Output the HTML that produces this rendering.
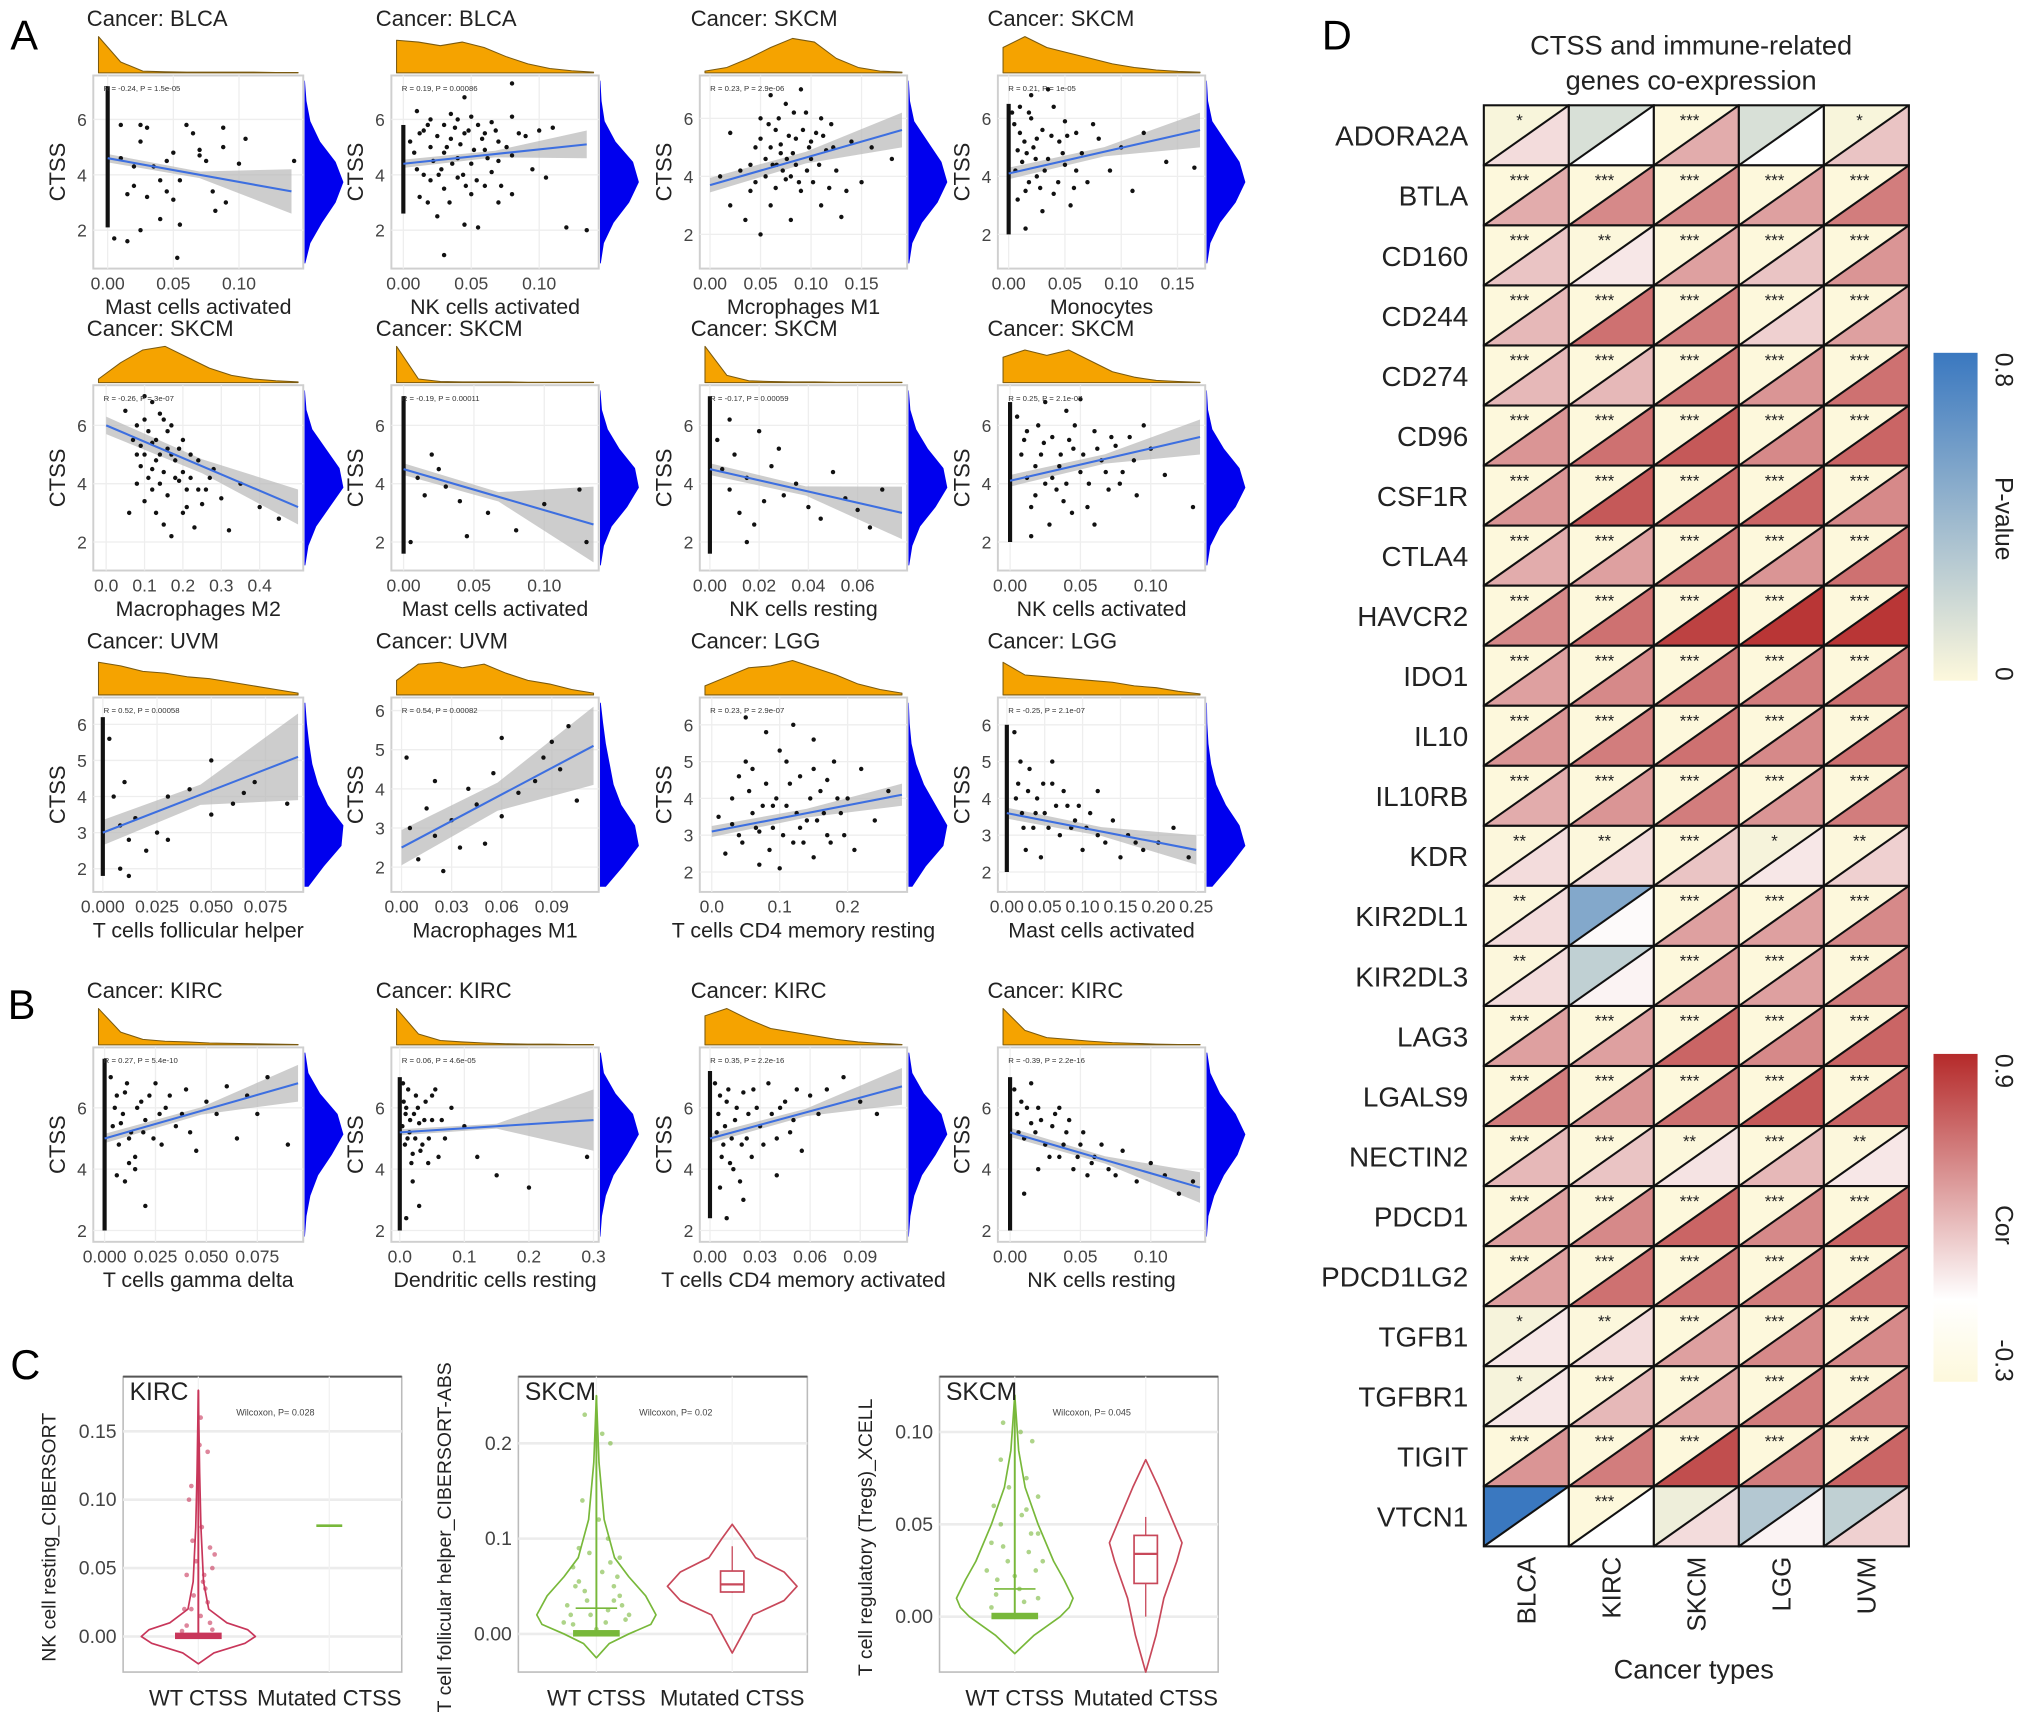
<!DOCTYPE html>
<html><head><meta charset="utf-8"><style>
html,body{margin:0;padding:0;background:#fff}
svg{display:block;font-family:"Liberation Sans",sans-serif}
</style></head><body>
<svg id="fig" width="2032" height="1732" viewBox="0 0 1568 1336" xmlns="http://www.w3.org/2000/svg">
<rect x="0" y="0" width="1568" height="1336" fill="#fff"/>
<text x="8" y="38" font-size="32">A</text>
<text x="6" y="786" font-size="32">B</text>
<text x="8" y="1064" font-size="32">C</text>
<text x="1020" y="38" font-size="32">D</text>
<g id="scatters"></g>
<g id="violins"></g>
<g id="heat"></g>
</svg>
<script>
// ---------------- Heatmap data ----------------
const genes=["ADORA2A","BTLA","CD160","CD244","CD274","CD96","CSF1R","CTLA4","HAVCR2","IDO1","IL10","IL10RB","KDR","KIR2DL1","KIR2DL3","LAG3","LGALS9","NECTIN2","PDCD1","PDCD1LG2","TGFB1","TGFBR1","TIGIT","VTCN1"];
const cancers=["BLCA","KIRC","SKCM","LGG","UVM"];
const corVals=[
[0.15,0.0,0.35,0.0,0.25],[0.35,0.5,0.5,0.4,0.55],[0.25,0.1,0.4,0.25,0.45],[0.3,0.6,0.55,0.2,0.4],
[0.3,0.3,0.6,0.45,0.6],[0.45,0.6,0.7,0.5,0.65],[0.45,0.7,0.65,0.65,0.5],[0.35,0.4,0.6,0.45,0.6],
[0.5,0.6,0.8,0.85,0.85],[0.4,0.5,0.6,0.55,0.6],[0.45,0.55,0.6,0.5,0.6],[0.35,0.45,0.55,0.45,0.55],
[0.15,0.15,0.25,0.1,0.2],[0.15,0.02,0.4,0.4,0.5],[0.15,0.05,0.45,0.4,0.55],[0.4,0.4,0.65,0.5,0.65],
[0.55,0.45,0.6,0.7,0.65],[0.3,0.25,0.12,0.3,0.1],[0.4,0.5,0.65,0.5,0.65],[0.4,0.6,0.6,0.55,0.6],
[0.1,0.15,0.4,0.5,0.5],[0.1,0.3,0.4,0.55,0.55],[0.45,0.55,0.75,0.55,0.65],[0.0,0.0,0.15,0.05,0.2]];
const pVals=[
[0.02,0.15,0,0.15,0.02],[0,0,0,0,0],[0,0.005,0,0,0],[0,0,0,0,0],[0,0,0,0,0],[0,0,0,0,0],[0,0,0,0,0],[0,0,0,0,0],
[0,0,0,0,0],[0,0,0,0,0],[0,0,0,0,0],[0,0,0,0,0],[0.005,0.005,0,0.03,0.005],[0.005,0.5,0,0,0],[0.005,0.25,0,0,0],
[0,0,0,0,0],[0,0,0,0,0],[0,0,0.005,0,0.005],[0,0,0,0,0],[0,0,0,0,0],[0.03,0.005,0,0,0],[0.03,0,0,0,0],[0,0,0,0,0],[0.8,0,0.06,0.3,0.25]];
const stars=[
["*","","***","","*"],["***","***","***","***","***"],["***","**","***","***","***"],["***","***","***","***","***"],
["***","***","***","***","***"],["***","***","***","***","***"],["***","***","***","***","***"],["***","***","***","***","***"],
["***","***","***","***","***"],["***","***","***","***","***"],["***","***","***","***","***"],["***","***","***","***","***"],
["**","**","***","*","**"],["**","","***","***","***"],["**","","***","***","***"],["***","***","***","***","***"],
["***","***","***","***","***"],["***","***","**","***","**"],["***","***","***","***","***"],["***","***","***","***","***"],
["*","**","***","***","***"],["*","***","***","***","***"],["***","***","***","***","***"],["","***","","",""]];
const pTicks=["0.8","0"];
const corTicks=["0.9","-0.3"];

const NS="http://www.w3.org/2000/svg";
function el(tag,attrs,parent,txt){const e=document.createElementNS(NS,tag);for(const k in attrs)e.setAttribute(k,attrs[k]);if(txt!==undefined)e.textContent=txt;parent.appendChild(e);return e;}
function mix(a,b,t){return [0,1,2].map(i=>Math.round(a[i]+(b[i]-a[i])*t));}
function rgb(c){return `rgb(${c[0]},${c[1]},${c[2]})`;}
const CREAM=[253,248,220],WHITE=[255,255,255],RED=[181,42,42],BLUE=[58,120,192];
function corColor(v){if(v<0)return rgb(mix(WHITE,CREAM,Math.min(1,-v/0.3)));return rgb(mix(WHITE,RED,Math.min(1,v/0.9)));}
function pColor(p){return rgb(mix(CREAM,BLUE,Math.min(1,p/0.8)));}

(function(){
const g=document.getElementById('heat');
const gx0=1145,gx1=1473,gy0=81,gy1=1193;
const cw=(gx1-gx0)/cancers.length,rh=(gy1-gy0)/genes.length;
let t=el('text',{x:1305,y:42,'font-size':21,'text-anchor':'middle',fill:'#222'},g,"CTSS and immune-related");

t=el('text',{x:1305,y:69,'font-size':21,'text-anchor':'middle',fill:'#222'},g,"genes co-expression");

genes.forEach((gn,r)=>{
  const y=gy0+r*rh;
  const lab=el('text',{x:1133,y:y+rh/2+8,'font-size':21.5,'text-anchor':'end',fill:'#222'},g,gn);
  
  cancers.forEach((c,ci)=>{
    const x=gx0+ci*cw;
    const up=el('polygon',{points:`${x},${y} ${x+cw},${y} ${x},${y+rh}`,fill:pColor(pVals[r][ci])},g);
    
    const lo=el('polygon',{points:`${x+cw},${y} ${x+cw},${y+rh} ${x},${y+rh}`,fill:corColor(corVals[r][ci])},g);
    
    el('rect',{x:x,y:y,width:cw,height:rh,fill:'none',stroke:'#111','stroke-width':1.6},g);
    el('line',{x1:x,y1:y+rh,x2:x+cw,y2:y,stroke:'#111','stroke-width':1.6},g);
    if(stars[r][ci]){const s=el('text',{x:x+cw*0.42,y:y+16,'font-size':13,'text-anchor':'middle',fill:'#222'},g,stars[r][ci]);
      }
  });
});
cancers.forEach((c,ci)=>{
  const x=gx0+ci*cw+cw/2+7;
  const lab=el('text',{x:x,y:gy1+8,'font-size':20,'text-anchor':'end',fill:'#222',transform:`rotate(-90 ${x} ${gy1+8})`},g,c);
  
});
t=el('text',{x:1307,y:1295,'font-size':21,'text-anchor':'middle',fill:'#222'},g,"Cancer types");

const defs=el('defs',{},g);
let lg=el('linearGradient',{id:'pg',x1:0,y1:0,x2:0,y2:1},defs);
el('stop',{offset:'0',  'stop-color':rgb(BLUE)},lg);el('stop',{offset:'1','stop-color':rgb(CREAM)},lg);
lg=el('linearGradient',{id:'cg',x1:0,y1:0,x2:0,y2:1},defs);
el('stop',{offset:'0','stop-color':rgb(RED)},lg);el('stop',{offset:'0.75','stop-color':'#fff'},lg);el('stop',{offset:'1','stop-color':rgb(CREAM)},lg);
let cb=el('rect',{x:1492,y:272,width:34,height:253,fill:'url(#pg)'},g);

cb=el('rect',{x:1492,y:813,width:34,height:253,fill:'url(#cg)'},g);

function vt(x,y,s,anchor,name){const e=el('text',{x:x,y:y,'font-size':19,'text-anchor':anchor,fill:'#222',transform:`rotate(90 ${x} ${y})`},g,s);}
vt(1540,272,pTicks[0],'start','pvalue-tick');vt(1540,525,pTicks[1],'end','pvalue-tick');vt(1540,400,"P-value",'middle','pvalue-legend-title');
vt(1540,813,corTicks[0],'start','cor-tick');vt(1540,1066,corTicks[1],'end','cor-tick');vt(1540,945,"Cor",'middle','cor-legend-title');
})();

// ---------------- Scatter panels data ----------------
const colX=[[72,234],[302,462],[540,700],[770,930]];
const rowY=[[58,207],[297,440],[538,688],[808,958]];
const titleX=[67,290,533,762];
const panelTitles=["Cancer: BLCA","Cancer: BLCA","Cancer: SKCM","Cancer: SKCM","Cancer: SKCM","Cancer: SKCM","Cancer: SKCM","Cancer: SKCM","Cancer: UVM","Cancer: UVM","Cancer: LGG","Cancer: LGG","Cancer: KIRC","Cancer: KIRC","Cancer: KIRC","Cancer: KIRC"];
const xLabels=["Mast cells activated","NK cells activated","Mcrophages M1","Monocytes","Macrophages M2","Mast cells activated","NK cells resting","NK cells activated","T cells follicular helper","Macrophages  M1","T cells CD4 memory resting","Mast cells activated","T cells gamma delta","Dendritic cells resting","T cells CD4 memory activated","NK cells resting"];
const stats=["R = -0.24, P = 1.5e-05","R = 0.19, P = 0.00086","R = 0.23, P = 2.9e-06","R = 0.21, P = 1e-05","R = -0.26, P = 3e-07","R = -0.19, P = 0.00011","R = -0.17, P = 0.00059","R = 0.25, P = 2.1e-07","R = 0.52, P = 0.00058","R = 0.54, P = 0.00082","R = 0.23, P = 2.9e-07","R = -0.25, P = 2.1e-07","R = 0.27, P = 5.4e-10","R = 0.06, P = 4.6e-05","R = 0.35, P = 2.2e-16","R = -0.39, P = 2.2e-16"];
const xDomains=[[-0.007,0.145],[-0.005,0.14],[-0.005,0.19],[-0.005,0.17],[-0.02,0.5],[-0.005,0.135],[-0.002,0.078],[-0.005,0.135],[-0.002,0.09],[-0.003,0.115],[-0.01,0.28],[-0.005,0.255],[-0.003,0.095],[-0.005,0.3],[-0.003,0.115],[-0.005,0.135]];
const yDomains=[[0.8,7.4],[0.8,7.4],[1,7.3],[1,7.3],[1.2,7.2],[1.2,7.2],[1.2,7.2],[1.2,7.2],[1.5,6.6],[1.5,6.2],[1.6,6.6],[1.6,6.6],[1.8,7.8],[1.8,7.8],[1.8,7.8],[1.8,7.8]];
const xTicks=[[0,0.05,0.1],[0,0.05,0.1],[0,0.05,0.1,0.15],[0,0.05,0.1,0.15],[0,0.1,0.2,0.3,0.4],[0,0.05,0.1],[0,0.02,0.04,0.06],[0,0.05,0.1],[0,0.025,0.05,0.075],[0,0.03,0.06,0.09],[0,0.1,0.2],[0,0.05,0.1,0.15,0.2,0.25],[0,0.025,0.05,0.075],[0,0.1,0.2,0.3],[0,0.03,0.06,0.09],[0,0.05,0.1]];
const xTickLabels=[["0.00","0.05","0.10"],["0.00","0.05","0.10"],["0.00","0.05","0.10","0.15"],["0.00","0.05","0.10","0.15"],["0.0","0.1","0.2","0.3","0.4"],["0.00","0.05","0.10"],["0.00","0.02","0.04","0.06"],["0.00","0.05","0.10"],["0.000","0.025","0.050","0.075"],["0.00","0.03","0.06","0.09"],["0.0","0.1","0.2"],["0.00","0.05","0.10","0.15","0.20","0.25"],["0.000","0.025","0.050","0.075"],["0.0","0.1","0.2","0.3"],["0.00","0.03","0.06","0.09"],["0.00","0.05","0.10"]];
const yTicks=[[2,4,6],[2,4,6],[2,4,6],[2,4,6],[2,4,6],[2,4,6],[2,4,6],[2,4,6],[2,3,4,5,6],[2,3,4,5,6],[2,3,4,5,6],[2,3,4,5,6],[2,4,6],[2,4,6],[2,4,6],[2,4,6]];
const fitLines=[[0,4.6,0.14,3.4],[0,4.4,0.135,5.1],[0,3.7,0.19,5.6],[0,4.1,0.17,5.6],[0,6.0,0.5,3.2],[0,4.5,0.135,2.6],[0,4.5,0.078,3.0],[0,4.1,0.135,5.6],[0,3.0,0.09,5.1],[0,2.5,0.115,5.1],[0,3.1,0.28,4.1],[0,3.6,0.25,2.6],[0,5.0,0.095,6.8],[0,5.2,0.3,5.6],[0,5.0,0.115,6.7],[0,5.2,0.135,3.4]];
const bandWidths=[[0.15,0.8],[0.15,0.5],[0.25,0.6],[0.2,0.6],[0.3,0.6],[0.2,1.3],[0.2,0.9],[0.2,0.6],[0.35,1.2],[0.45,1.0],[0.15,0.3],[0.15,0.4],[0.15,0.6],[0.1,1.0],[0.15,0.6],[0.15,0.5]];
const zeroStacks=[[2.1,7.2],[2.6,5.8],null,[2.0,6.5],null,[1.6,7.0],[1.6,7.0],[2.0,6.8],[1.8,6.2],null,null,[2.0,6.0],[2.0,7.6],[2.0,7.0],[2.4,7.2],[2.0,7.0]];
const points=[
[[0.01,5.8],[0.025,5.8],[0.03,5.7],[0.025,5.2],[0.05,4.8],[0.06,5.8],[0.065,5.5],[0.07,4.7],[0.075,4.5],[0.088,5.7],[0.088,5.0],[0.105,5.3],[0.1,4.4],[0.142,4.5],[0.02,3.6],[0.03,3.2],[0.035,4.3],[0.04,3.8],[0.045,3.4],[0.05,3.1],[0.055,3.8],[0.08,3.4],[0.09,3.0],[0.082,2.7],[0.04,2.4],[0.025,2.0],[0.015,1.6],[0.053,1.0],[0.055,2.2],[0.005,1.7],[0.01,4.6],[0.015,3.3],[0.02,4.3],[0.07,4.9],[0.045,4.5]],
[[0.01,6.3],[0.02,6.0],[0.03,5.8],[0.035,6.2],[0.04,6.0],[0.045,5.5],[0.05,6.1],[0.055,5.8],[0.06,5.5],[0.065,5.9],[0.07,5.2],[0.08,6.1],[0.09,5.4],[0.1,5.6],[0.11,5.7],[0.02,5.0],[0.03,4.8],[0.04,4.6],[0.05,4.4],[0.06,4.9],[0.07,4.5],[0.08,4.7],[0.01,4.2],[0.02,3.8],[0.03,3.5],[0.04,3.9],[0.05,3.3],[0.06,3.6],[0.07,3.0],[0.08,3.3],[0.025,2.5],[0.045,2.2],[0.055,2.1],[0.03,1.1],[0.12,2.1],[0.135,2.0],[0.045,6.8],[0.08,7.3],[0.035,5.3],[0.015,5.6],[0.065,4.1],[0.095,4.2],[0.105,3.9],
 [0.005,5.2],[0.008,4.8],[0.012,5.5],[0.015,4.0],[0.018,5.8],[0.022,4.5],[0.025,5.4],[0.028,4.2],[0.032,5.0],[0.036,4.4],[0.038,5.7],[0.042,5.1],[0.044,4.0],[0.048,5.6],[0.052,4.9],[0.054,3.8],[0.058,5.3],[0.062,4.6],[0.068,5.6],[0.072,3.6],[0.076,5.0],[0.085,5.5],[0.012,3.2],[0.018,3.0],[0.026,4.0],[0.034,3.0],[0.046,3.6]],
[[0.02,5.5],[0.03,4.2],[0.04,3.5],[0.045,5.0],[0.05,6.0],[0.055,4.6],[0.06,3.0],[0.065,5.6],[0.07,4.8],[0.075,6.5],[0.08,4.0],[0.085,5.3],[0.09,3.5],[0.095,6.2],[0.1,4.6],[0.105,5.5],[0.11,3.0],[0.115,4.9],[0.12,5.8],[0.125,4.2],[0.13,2.6],[0.14,5.2],[0.15,3.8],[0.16,5.0],[0.18,4.6],[0.035,2.5],[0.05,2.0],[0.08,2.5],[0.06,6.8],[0.09,7.0],[0.07,5.1],[0.1,5.2],[0.085,4.4],[0.075,3.9],[0.11,6.0],[0.02,3.0],[0.01,4.0],[0.135,3.5],
 [0.04,4.4],[0.045,3.8],[0.05,5.3],[0.055,4.0],[0.06,5.0],[0.062,4.4],[0.065,3.6],[0.068,6.0],[0.072,4.2],[0.078,5.4],[0.082,4.8],[0.088,3.8],[0.092,5.6],[0.096,4.2],[0.098,5.0],[0.102,3.8],[0.108,4.4],[0.112,5.4],[0.118,3.6],[0.122,5.0],[0.058,5.8],[0.083,6.2],[0.066,4.4],[0.076,4.6]],
[[0.003,6.2],[0.01,5.5],[0.012,4.5],[0.015,3.5],[0.02,6.0],[0.022,5.0],[0.025,4.0],[0.03,2.8],[0.03,5.6],[0.035,4.6],[0.04,3.4],[0.04,6.4],[0.045,5.2],[0.05,4.4],[0.055,3.0],[0.06,5.5],[0.065,4.8],[0.07,3.8],[0.08,5.3],[0.09,4.2],[0.1,5.0],[0.11,3.5],[0.12,5.5],[0.14,4.5],[0.015,2.2],[0.02,6.8],[0.035,7.0],[0.165,4.3],[0.05,5.9],[0.025,5.3],[0.06,4.2],[0.075,5.8],[0.018,3.8],[0.008,4.9],
 [0.005,5.8],[0.006,4.2],[0.008,3.2],[0.01,6.4],[0.014,5.2],[0.016,4.8],[0.018,6.2],[0.024,4.6],[0.028,3.6],[0.032,4.2],[0.038,5.4],[0.044,3.8],[0.048,4.8],[0.052,5.4],[0.058,3.6]],
[[0.05,6.5],[0.08,6.0],[0.1,7.0],[0.12,6.8],[0.13,5.5],[0.15,6.2],[0.1,5.0],[0.12,4.5],[0.14,4.0],[0.16,5.2],[0.18,4.8],[0.2,5.5],[0.22,4.2],[0.24,4.8],[0.26,3.8],[0.28,4.5],[0.3,3.5],[0.08,4.0],[0.1,3.4],[0.13,3.0],[0.15,2.6],[0.17,2.2],[0.2,3.0],[0.23,2.5],[0.06,3.0],[0.35,4.0],[0.4,3.2],[0.45,2.8],[0.32,2.4],[0.11,5.8],[0.17,6.0],[0.19,4.1],[0.25,3.3],[0.09,4.6],[0.14,5.0],[0.21,3.8],
 [0.07,5.5],[0.09,5.3],[0.11,4.2],[0.12,5.4],[0.13,4.8],[0.14,6.4],[0.15,4.4],[0.16,3.6],[0.17,5.0],[0.18,4.2],[0.19,5.2],[0.2,4.4],[0.21,3.2],[0.22,5.0],[0.24,3.8],[0.27,4.2],[0.12,3.8],[0.1,6.2],[0.08,5.0],[0.16,5.8]],
[[0.01,4.2],[0.015,3.6],[0.02,5.0],[0.03,3.9],[0.04,3.4],[0.045,2.2],[0.06,3.0],[0.08,2.4],[0.1,3.3],[0.125,3.8],[0.13,2.0],[0.005,2.0],[0.025,4.5]],
[[0.003,5.5],[0.005,4.5],[0.008,3.8],[0.01,5.0],[0.012,3.0],[0.015,4.2],[0.018,2.6],[0.02,5.8],[0.022,3.4],[0.025,4.6],[0.03,3.6],[0.035,4.0],[0.04,3.2],[0.045,2.8],[0.05,4.4],[0.055,3.5],[0.06,3.1],[0.065,2.5],[0.07,3.8],[0.008,6.2],[0.015,2.0],[0.028,5.2]],
[[0.005,6.3],[0.01,5.5],[0.012,4.2],[0.015,3.2],[0.02,6.0],[0.022,5.0],[0.025,4.0],[0.028,2.6],[0.03,5.6],[0.035,4.6],[0.038,3.4],[0.04,6.5],[0.045,5.2],[0.05,4.4],[0.055,3.2],[0.06,5.8],[0.065,4.8],[0.07,3.8],[0.075,5.3],[0.08,4.4],[0.085,5.6],[0.09,3.6],[0.1,5.2],[0.11,4.3],[0.13,3.2],[0.015,2.2],[0.025,6.8],[0.05,6.9],[0.095,6.0],[0.033,3.8],[0.06,2.6],[0.042,5.5],
 [0.008,5.0],[0.012,5.8],[0.018,4.6],[0.024,5.4],[0.03,4.2],[0.036,5.0],[0.04,4.0],[0.046,6.0],[0.052,5.0],[0.056,4.0],[0.062,5.2],[0.068,4.4],[0.072,5.6],[0.078,4.0],[0.088,4.8],[0.018,3.6],[0.044,3.0]],
[[0.003,5.6],[0.005,4.0],[0.008,3.2],[0.01,4.4],[0.012,2.8],[0.015,3.4],[0.02,2.5],[0.025,3.0],[0.03,4.0],[0.04,4.2],[0.05,3.5],[0.06,3.8],[0.065,4.1],[0.07,4.4],[0.008,2.0],[0.03,2.8],[0.05,5.0],[0.085,3.8],[0.012,1.8]],
[[0.003,4.8],[0.005,3.0],[0.01,2.2],[0.015,3.5],[0.02,2.8],[0.025,1.9],[0.03,3.2],[0.035,2.5],[0.04,4.0],[0.045,3.6],[0.05,2.6],[0.055,4.4],[0.06,3.3],[0.07,3.9],[0.08,4.2],[0.085,4.8],[0.09,5.2],[0.095,4.5],[0.1,5.6],[0.105,3.7],[0.06,5.3],[0.02,4.2]],
[[0.01,3.5],[0.02,2.5],[0.03,4.0],[0.04,3.0],[0.05,5.0],[0.06,3.6],[0.07,2.2],[0.08,4.4],[0.09,3.2],[0.1,5.3],[0.11,3.8],[0.12,2.8],[0.13,4.6],[0.14,3.4],[0.15,2.4],[0.16,4.2],[0.17,3.0],[0.18,5.0],[0.19,3.6],[0.2,4.0],[0.21,2.6],[0.22,4.8],[0.24,3.4],[0.26,4.2],[0.05,6.2],[0.08,5.8],[0.12,6.0],[0.1,2.1],[0.15,5.6],[0.07,3.1],[0.04,4.6],[0.17,4.5],
 [0.03,3.3],[0.045,2.8],[0.055,4.2],[0.065,3.2],[0.075,3.8],[0.085,2.6],[0.095,4.0],[0.105,3.0],[0.115,4.4],[0.125,3.6],[0.135,2.8],[0.145,4.0],[0.155,3.4],[0.165,3.6],[0.175,2.8],[0.185,4.0],[0.195,3.0],[0.06,4.8],[0.11,5.0],[0.09,3.8],[0.13,3.2],[0.15,4.8]],
[[0.01,5.8],[0.015,4.4],[0.02,3.6],[0.03,4.8],[0.035,3.2],[0.04,4.0],[0.05,3.6],[0.06,4.4],[0.07,3.0],[0.08,3.8],[0.09,3.4],[0.1,2.6],[0.11,3.6],[0.12,3.0],[0.13,2.8],[0.14,3.4],[0.15,2.4],[0.16,3.0],[0.18,2.6],[0.2,2.8],[0.22,3.2],[0.24,2.4],[0.06,5.0],[0.025,2.6],[0.045,2.4],[0.12,4.2],
 [0.012,4.0],[0.018,5.0],[0.022,3.2],[0.028,4.2],[0.038,3.6],[0.048,4.4],[0.055,3.2],[0.065,3.8],[0.075,4.2],[0.085,3.2],[0.095,3.8],[0.105,3.2],[0.17,2.8]],
[[0.003,7.0],[0.005,6.0],[0.008,5.5],[0.01,6.5],[0.012,5.0],[0.015,4.4],[0.018,6.2],[0.02,5.6],[0.025,6.8],[0.028,4.8],[0.03,6.0],[0.035,5.4],[0.04,6.6],[0.045,4.6],[0.05,6.2],[0.055,5.8],[0.06,6.7],[0.065,5.0],[0.07,6.4],[0.075,5.8],[0.08,7.0],[0.09,4.8],[0.01,3.6],[0.02,2.8],[0.015,4.0],
 [0.004,5.4],[0.006,6.4],[0.007,4.8],[0.009,5.8],[0.011,6.8],[0.013,5.2],[0.016,6.0],[0.019,5.2],[0.022,6.4],[0.024,5.0],[0.027,5.8],[0.032,6.4],[0.038,5.8],[0.042,5.2],[0.012,4.2],[0.006,3.8]],
[[0.005,6.8],[0.01,6.0],[0.015,5.2],[0.02,4.5],[0.025,6.4],[0.03,5.5],[0.035,4.8],[0.04,6.2],[0.05,5.6],[0.06,4.4],[0.07,5.0],[0.08,6.0],[0.1,5.4],[0.12,4.4],[0.15,3.8],[0.2,3.4],[0.29,4.4],[0.02,3.6],[0.03,2.8],[0.01,2.4],[0.045,5.0],[0.055,6.6],
 [0.004,5.4],[0.006,6.2],[0.008,4.8],[0.009,5.8],[0.012,5.0],[0.013,6.6],[0.016,5.6],[0.018,4.2],[0.022,5.8],[0.024,5.0],[0.028,6.0],[0.032,4.6],[0.038,5.6],[0.044,4.2],[0.05,6.4],[0.065,5.6]],
[[0.003,6.8],[0.005,5.8],[0.008,4.8],[0.01,6.2],[0.012,4.2],[0.015,5.6],[0.018,3.6],[0.02,6.5],[0.022,5.0],[0.025,4.4],[0.028,6.0],[0.03,5.4],[0.035,6.8],[0.04,5.0],[0.045,6.2],[0.05,5.6],[0.055,4.6],[0.06,6.4],[0.065,5.8],[0.07,6.6],[0.08,7.0],[0.09,6.2],[0.1,5.8],[0.02,3.0],[0.01,2.4],[0.04,3.8],
 [0.004,5.2],[0.006,6.4],[0.007,4.4],[0.009,5.4],[0.011,6.6],[0.013,5.0],[0.016,6.0],[0.019,4.8],[0.023,5.8],[0.026,6.6],[0.032,4.8],[0.037,5.8],[0.042,6.0],[0.048,5.2],[0.052,6.6],[0.006,3.4],[0.014,4.0]],
[[0.003,6.6],[0.005,5.8],[0.008,6.2],[0.01,5.0],[0.015,5.5],[0.02,6.0],[0.025,4.8],[0.03,5.4],[0.035,4.4],[0.04,5.2],[0.045,4.0],[0.05,4.8],[0.055,3.8],[0.06,4.4],[0.07,4.0],[0.08,4.6],[0.09,3.6],[0.1,4.2],[0.11,3.8],[0.12,3.2],[0.13,3.6],[0.02,4.0],[0.015,6.8],[0.035,6.0],[0.01,3.2],
 [0.006,5.2],[0.012,6.0],[0.018,5.2],[0.022,5.6],[0.028,4.4],[0.032,5.8],[0.038,4.8],[0.042,5.6],[0.048,4.4],[0.052,5.2],[0.058,4.2],[0.065,4.8],[0.075,3.8]]];
const topDens=[
[1,0.3,0.05,0.03,0.02,0.02,0.02,0.02,0.01,0.01],[0.9,0.85,0.75,0.85,0.7,0.45,0.25,0.12,0.06,0.02],[0.05,0.15,0.4,0.7,0.95,0.85,0.4,0.15,0.05,0.02],[0.7,1,0.7,0.55,0.4,0.25,0.15,0.08,0.04,0.02],
[0.1,0.55,0.9,1,0.7,0.4,0.2,0.1,0.05,0.02],[1,0.1,0.03,0.02,0.02,0.02,0.01,0.01,0.01,0.01],[1,0.2,0.05,0.03,0.02,0.02,0.01,0.01,0.01,0.01],[0.7,0.9,0.75,0.9,0.6,0.3,0.15,0.06,0.03,0.01],
[0.9,0.8,0.65,0.6,0.5,0.45,0.35,0.25,0.15,0.05],[0.4,0.85,0.9,0.75,0.85,0.6,0.4,0.3,0.15,0.05],[0.25,0.5,0.75,0.8,0.95,0.75,0.55,0.3,0.15,0.05],[0.9,0.55,0.5,0.45,0.4,0.35,0.25,0.2,0.1,0.03],
[1,0.35,0.15,0.1,0.08,0.05,0.04,0.03,0.02,0.01],[1,0.3,0.12,0.08,0.05,0.03,0.02,0.02,0.01,0.01],[0.8,1,0.7,0.45,0.35,0.25,0.15,0.08,0.04,0.01],[1,0.4,0.2,0.15,0.1,0.06,0.04,0.02,0.01,0.01]];
const rightDens=[
[0.02,0.15,0.45,0.8,1,0.8,0.4,0.15,0.05,0.01],[0.02,0.1,0.35,0.75,1,0.85,0.4,0.12,0.04,0.01],[0.02,0.1,0.35,0.75,1,0.85,0.5,0.15,0.04,0.01],[0.02,0.1,0.35,0.75,1,0.85,0.5,0.15,0.04,0.01],
[0.02,0.1,0.3,0.65,1,0.9,0.55,0.2,0.05,0.01],[0.02,0.1,0.3,0.7,1,0.9,0.5,0.2,0.05,0.01],[0.02,0.1,0.3,0.7,1,0.9,0.5,0.2,0.05,0.01],[0.02,0.1,0.35,0.75,1,0.85,0.45,0.15,0.04,0.01],
[0.1,0.5,0.95,1,0.6,0.35,0.2,0.12,0.06,0.02],[0.15,0.6,1,0.9,0.55,0.35,0.25,0.15,0.08,0.02],[0.1,0.45,0.9,1,0.7,0.4,0.2,0.08,0.03,0.01],[0.15,0.6,1,0.85,0.5,0.25,0.12,0.05,0.02,0.01],
[0.01,0.05,0.15,0.35,0.7,1,0.85,0.4,0.1,0.02],[0.01,0.05,0.15,0.35,0.7,1,0.85,0.4,0.1,0.02],[0.01,0.05,0.15,0.35,0.7,1,0.85,0.4,0.1,0.02],[0.01,0.05,0.2,0.45,0.8,1,0.75,0.35,0.1,0.02]];

(function(){
const root=document.getElementById('scatters');
for(let i=0;i<16;i++){
  const col=i%4,row=Math.floor(i/4);
  const [bx0,bx1]=colX[col],[by0,by1]=rowY[row];
  const [xa,xb]=xDomains[i],[ya,yb]=yDomains[i];
  const sx=v=>bx0+4+(v-xa)/(xb-xa)*(bx1-bx0-8);
  const sy=v=>by1-4-(v-ya)/(yb-ya)*(by1-by0-8);
  const g=el('g',{},root);
  
  
  const tt=el('text',{x:titleX[col],y:by0-38,'font-size':17,fill:'#222'},g,panelTitles[i]);
  
  const td=topDens[i];let d=`M${sx(xa)},${by0-2}`;
  td.forEach((v,k)=>{d+=` L${sx(xa+(xb-xa)*k/(td.length-1))},${by0-2-v*28}`;});
  d+=` L${sx(xb)},${by0-2} Z`;
  const tp=el('path',{d:d,fill:'#f5a300',stroke:'#7a5a10','stroke-width':0.8,'stroke-linejoin':'round'},g);
  
  const rd=rightDens[i];d=`M${bx1+1},${sy(ya)}`;
  rd.forEach((v,k)=>{d+=` L${bx1+1+v*30},${sy(ya+(yb-ya)*k/(rd.length-1))}`;});
  d+=` L${bx1+1},${sy(yb)} Z`;
  const rp=el('path',{d:d,fill:'#0000ee','stroke-linejoin':'round'},g);
  
  el('rect',{x:bx0,y:by0,width:bx1-bx0,height:by1-by0,fill:'#fff',stroke:'#cfcfcf','stroke-width':1.5},g);
  xTicks[i].forEach(v=>el('line',{x1:sx(v),x2:sx(v),y1:by0,y2:by1,stroke:'#eee'},g));
  yTicks[i].forEach(v=>el('line',{x1:bx0,x2:bx1,y1:sy(v),y2:sy(v),stroke:'#eee'},g));
  const f=fitLines[i],bw=bandWidths[i];
  const bp=el('polygon',{points:`${sx(f[0])},${sy(f[1]+bw[0])} ${sx((f[0]+f[2])/2)},${sy((f[1]+f[3])/2+bw[0]*0.8)} ${sx(f[2])},${sy(f[3]+bw[1])} ${sx(f[2])},${sy(f[3]-bw[1])} ${sx((f[0]+f[2])/2)},${sy((f[1]+f[3])/2-bw[0]*0.8)} ${sx(f[0])},${sy(f[1]-bw[0])}`,fill:'#b8b8b8','fill-opacity':0.7},g);
  
  const zs=zeroStacks[i];
  if(zs){const z=el('rect',{x:sx(0)-1.6,y:sy(zs[1]),width:3.2,height:sy(zs[0])-sy(zs[1]),fill:'#111'},g);
    }
  points[i].forEach(p=>{const c=el('circle',{cx:sx(p[0]),cy:sy(p[1]),r:1.7,fill:'#111'},g);
    });
  const ln=el('line',{x1:sx(f[0]),y1:sy(f[1]),x2:sx(f[2]),y2:sy(f[3]),stroke:'#3d6fe0','stroke-width':1.6},g);
  
  const st=el('text',{x:bx0+8,y:by0+12,'font-size':6,fill:'#333'},g,stats[i]);
  
  xTicks[i].forEach((v,k)=>{const t=el('text',{x:sx(v),y:by1+16,'font-size':13.5,'text-anchor':'middle',fill:'#444'},g,xTickLabels[i][k]);
    });
  yTicks[i].forEach(v=>{const t=el('text',{x:bx0-5,y:sy(v)+5,'font-size':13.5,'text-anchor':'end',fill:'#444'},g,String(v));
    });
  const xl=el('text',{x:(bx0+bx1)/2,y:by1+35,'font-size':16.5,'text-anchor':'middle',fill:'#222'},g,xLabels[i]);
  
  const yx=bx0-22,yy=(by0+by1)/2;
  const yl=el('text',{x:yx,y:yy,'font-size':17,'text-anchor':'middle',fill:'#222',transform:`rotate(-90 ${yx} ${yy})`},g,"CTSS");
  
}
})();

// ---------------- Violin panels data ----------------
const vBoxes=[[95,310],[400,623],[725,940]];
const vCancer=["KIRC","SKCM","SKCM"];
const vYLabels=["NK cell resting_CIBERSORT","T cell follicular helper_CIBERSORT-ABS","T cell regulatory (Tregs)_XCELL"];
const vDomains=[[-0.026,0.19],[-0.04,0.27],[-0.03,0.13]];
const vTicks=[[0,0.05,0.1,0.15],[0,0.1,0.2],[0,0.05,0.1]];
const vTickLabels=[["0.00","0.05","0.10","0.15"],["0.00","0.1","0.2"],["0.00","0.05","0.10"]];
const vPvals=["Wilcoxon, P= 0.028","Wilcoxon, P= 0.02","Wilcoxon, P= 0.045"];
const groups=["WT CTSS","Mutated CTSS"];
const wtY=[[-0.02,-0.012,-0.005,0,0.005,0.01,0.02,0.04,0.08,0.12,0.18],[-0.025,-0.01,0,0.01,0.02,0.04,0.06,0.08,0.12,0.18,0.25],[-0.02,-0.01,0,0.005,0.01,0.02,0.03,0.05,0.07,0.09,0.12]];
const wtW=[[0,12,36,44,38,22,8,4,2,1,0],[0,10,25,42,46,38,25,14,6,2,0],[0,15,35,42,45,38,30,18,8,3,0]];
const mutY=[null,[-0.02,0,0.02,0.035,0.05,0.065,0.08,0.1,0.115],[-0.03,-0.01,0.01,0.03,0.04,0.05,0.07,0.085]];
const mutW=[null,[0,8,16,40,50,40,18,8,0],[0,8,14,24,28,22,10,0]];
const wtMedian=[0,0.027,0.015];
const mutBox=[null,[0.044,0.052,0.066,0.043,0.092],[0.018,0.034,0.044,0.0,0.054]];
const mutLine=[0.081,null,null];
const jitter=[
[[0.002,0.16],[0.001,0.14],[0.008,0.135],[-0.006,0.11],[-0.008,0.1],[0.003,0.08],[-0.005,0.07],[0.01,0.065],[0.012,0.05],[-0.01,0.045],[0.004,0.04],[-0.004,0.03],[0.008,0.025],[-0.006,0.02],[0.002,0.015],[0.01,0.01],[-0.01,0.008],[0.006,0.035],[-0.002,0.055],[0.014,0.06],[-0.012,0.02],[0.012,0.005],[-0.014,0.004],[0.005,0.045]],
[[-0.01,0.23],[0.005,0.21],[0.012,0.2],[-0.012,0.14],[0.002,0.12],[0.01,0.1],[-0.015,0.09],[0.02,0.08],[-0.02,0.07],[0.005,0.065],[0.015,0.05],[-0.01,0.045],[0.02,0.04],[-0.025,0.03],[0.01,0.025],[-0.005,0.02],[0.025,0.015],[-0.02,0.01],[0.0,0.005],[0.015,0.035],[-0.015,0.055],[0.022,0.03],[-0.022,0.02],[0.008,0.012],[-0.008,0.035],[0.018,0.06],[-0.018,0.05],[0.012,0.075],[-0.006,0.085],[0.028,0.02],[-0.028,0.012]],
[[-0.01,0.105],[0.005,0.1],[0.015,0.095],[-0.012,0.085],[0.01,0.075],[-0.005,0.07],[0.02,0.065],[-0.018,0.06],[0.006,0.055],[-0.012,0.05],[0.02,0.045],[-0.02,0.04],[0.012,0.035],[-0.006,0.03],[0.018,0.025],[-0.015,0.02],[0.004,0.015],[0.02,0.01],[-0.02,0.005],[0.008,0.008],[0.024,0.03],[-0.024,0.025],[0.014,0.045],[-0.01,0.038],[0.0,0.022],[0.01,0.058],[-0.016,0.012]]];

(function(){
const root=document.getElementById('violins');
const vy0=1062,vy1=1290;
for(let i=0;i<3;i++){
  const [bx0,bx1]=vBoxes[i];const [ya,yb]=vDomains[i];
  const sy=v=>vy1-(v-ya)/(yb-ya)*(vy1-vy0);
  const gx=[bx0+(bx1-bx0)*0.27,bx0+(bx1-bx0)*0.74];
  const wtCol=i==0?'#c8365a':'#78b83a',mutCol=i==0?'#78b83a':'#c8485a';
  const g=el('g',{},root);
  
  
  el('rect',{x:bx0,y:vy0,width:bx1-bx0,height:vy1-vy0,fill:'#fff',stroke:'#bbb','stroke-width':1.2},g);
  el('line',{x1:bx0,x2:bx1,y1:vy0,y2:vy0,stroke:'#555','stroke-width':1.5},g);
  vTicks[i].forEach(v=>el('line',{x1:bx0,x2:bx1,y1:sy(v),y2:sy(v),stroke:'#ececec','stroke-width':2},g));
  gx.forEach(x=>el('line',{x1:x,x2:x,y1:vy0,y2:vy1,stroke:'#f2f2f2'},g));
  let L='',R='';
  wtY[i].forEach((v,k)=>{L+=(k?' L':'M')+(gx[0]-wtW[i][k])+','+sy(v);});
  for(let k=wtY[i].length-1;k>=0;k--)R+=' L'+(gx[0]+wtW[i][k])+','+sy(wtY[i][k]);
  let vp=el('path',{d:L+R+' Z',fill:'none',stroke:wtCol,'stroke-width':1.3,'stroke-linejoin':'round'},g);
  
  jitter[i].forEach(p=>{const c=el('circle',{cx:gx[0]+p[0]*900,cy:sy(p[1]),r:1.8,fill:wtCol,'fill-opacity':0.6},g);
    });
  el('line',{x1:gx[0],x2:gx[0],y1:sy(wtY[i][wtY[i].length-1]),y2:sy(0),stroke:wtCol,'stroke-width':1.5},g);
  const zb=el('rect',{x:gx[0]-18,y:sy(0)-3,width:36,height:5,fill:wtCol},g);
  
  el('line',{x1:gx[0]-16,x2:gx[0]+16,y1:sy(wtMedian[i]),y2:sy(wtMedian[i]),stroke:wtCol,'stroke-width':1.2},g);
  if(mutY[i]){
    L='';R='';
    mutY[i].forEach((v,k)=>{L+=(k?' L':'M')+(gx[1]-mutW[i][k])+','+sy(v);});
    for(let k=mutY[i].length-1;k>=0;k--)R+=' L'+(gx[1]+mutW[i][k])+','+sy(mutY[i][k]);
    vp=el('path',{d:L+R+' Z',fill:'none',stroke:mutCol,'stroke-width':1.3,'stroke-linejoin':'round'},g);
    
    const b=mutBox[i];
    el('line',{x1:gx[1],x2:gx[1],y1:sy(b[4]),y2:sy(b[3]),stroke:mutCol},g);
    const bx=el('rect',{x:gx[1]-9,y:sy(b[2]),width:18,height:sy(b[0])-sy(b[2]),fill:'#fff',stroke:mutCol,'stroke-width':1.3},g);
    
    el('line',{x1:gx[1]-9,x2:gx[1]+9,y1:sy(b[1]),y2:sy(b[1]),stroke:mutCol,'stroke-width':1.8},g);
  } else {
    const ml=el('line',{x1:gx[1]-10,x2:gx[1]+10,y1:sy(mutLine[i]),y2:sy(mutLine[i]),stroke:mutCol,'stroke-width':2},g);
    
  }
  let t=el('text',{x:bx0+5,y:vy0+18,'font-size':19,fill:'#222'},g,vCancer[i]);
  
  t=el('text',{x:(bx0+bx1)/2+10,y:vy0+30,'font-size':7,fill:'#444','text-anchor':'middle'},g,vPvals[i]);
  
  vTicks[i].forEach((v,k)=>{const tk=el('text',{x:bx0-5,y:sy(v)+5,'font-size':15,'text-anchor':'end',fill:'#444'},g,vTickLabels[i][k]);
    });
  groups.forEach((gn,k)=>{const tk=el('text',{x:gx[k],y:vy1+26,'font-size':17,'text-anchor':'middle',fill:'#222'},g,gn);
    });
  const yx=bx0-52,yy=(vy0+vy1)/2+10;
  t=el('text',{x:yx,y:yy,'font-size':15,'text-anchor':'middle',fill:'#222',transform:`rotate(-90 ${yx} ${yy})`},g,vYLabels[i]);
  
}
})();
</script>
</body></html>
